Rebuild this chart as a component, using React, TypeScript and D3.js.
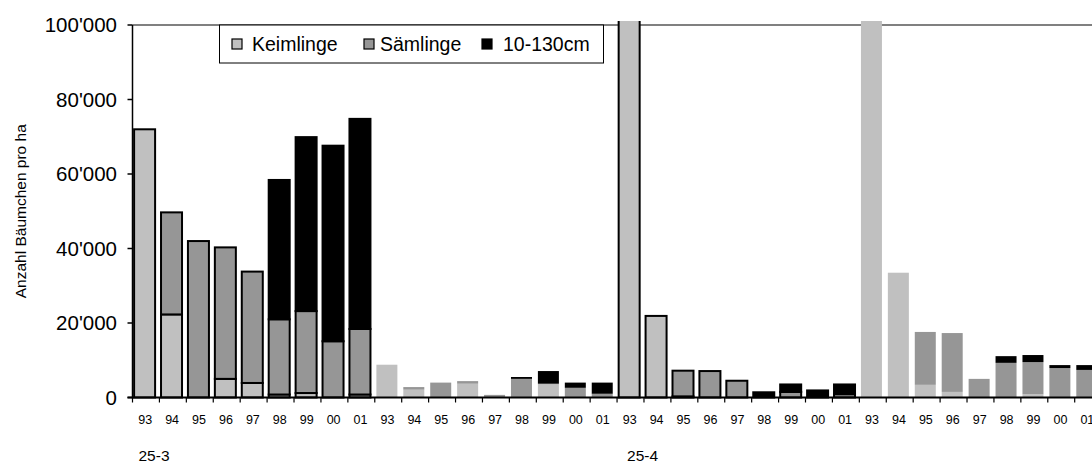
import React from "react";
import * as d3 from "d3";

// Jahrgänge (Aufnahmejahr) je Block
const jahre = ["93", "94", "95", "96", "97", "98", "99", "00", "01"];

// Blöcke: zwei Flächen, jeweils mit umrandeter und nicht umrandeter Serie
const blockLabels = ["25-3", "", "25-4", ""];
const blockOutlined = [true, false, true, false];

// Keimlinge pro ha
const keimlinge = [
  [72000, 22300, 0, 5000, 3900, 800, 1200, 0, 800],
  [8800, 2100, 0, 3700, 0, 0, 3500, 0, 0],
  [103000, 21900, 300, 0, 0, 0, 0, 0, 0],
  [103000, 33500, 3400, 1500, 0, 0, 900, 0, 0],
];

// Sämlinge pro ha
const saemlinge = [
  [0, 27400, 42000, 35300, 29900, 20200, 22000, 15100, 17600],
  [0, 700, 4000, 700, 700, 5000, 200, 2600, 1000],
  [0, 0, 6900, 7100, 4500, 0, 1500, 0, 900],
  [0, 0, 14200, 15800, 5000, 9300, 8600, 7900, 7400],
];

// Bäumchen 10-130 cm pro ha
const gross = [
  [0, 0, 0, 0, 0, 37400, 46700, 52500, 56400],
  [0, 0, 0, 0, 0, 500, 3400, 1400, 3000],
  [0, 0, 0, 0, 0, 1400, 2000, 1900, 2600],
  [0, 0, 0, 0, 0, 1800, 1900, 800, 1300],
];

const seriesNames = ["Keimlinge", "Sämlinge", "10-130cm"];
const seriesColors = ["#c0c0c0", "#969696", "#000000"];
const yTicks = [0, 20000, 40000, 60000, 80000, 100000];

const W = 1092;
const H = 469;
const left = 132.5;
const slot = 26.92;
const top = 25;
const bottom = 397.5;
const font = "'Liberation Sans', Arial, sans-serif";

const fmt = d3.formatLocale({ decimal: ".", thousands: "'", grouping: [3], currency: ["", ""] }).format(",d");

export default function App() {
  const nSlots = blockLabels.length * jahre.length;
  const slots = d3.range(nSlots);
  const x = d3
    .scaleBand<number>()
    .domain(slots)
    .range([left, left + nSlots * slot])
    .padding(0);
  const y = d3.scaleLinear().domain([0, 100000]).range([bottom, top]);

  const barOff = 1.6;
  const barW = 21;

  const bars: React.ReactNode[] = [];
  blockLabels.forEach((_, b) => {
    const outlined = blockOutlined[b];
    jahre.forEach((_, j) => {
      const idx = b * jahre.length + j;
      const x0 = (x(idx) as number) + barOff;
      const vals = [keimlinge[b][j], saemlinge[b][j], gross[b][j]];
      const stack = d3.cumsum(vals);
      vals.forEach((v, s) => {
        if (v <= 0) return;
        const y1 = y(stack[s]);
        const y0 = y(stack[s] - v);
        bars.push(
          <rect
            key={`b${b}-${j}-${s}`}
            x={x0}
            y={y1}
            width={barW}
            height={y0 - y1}
            fill={seriesColors[s]}
            stroke={outlined ? "#000" : "none"}
            strokeWidth={outlined ? 2 : 0}
          />
        );
      });
    });
  });

  const legendItems = [
    { sx: 232, tx: 252 },
    { sx: 364, tx: 380 },
    { sx: 482, tx: 503 },
  ];

  return (
    <svg
      width={W}
      height={H}
      style={{ position: "absolute", left: 0, top: 0, background: "#fff" }}
      fontFamily={font}
    >
      <defs>
        <clipPath id="plotClip">
          <rect x={left - 2} y={21} width={W} height={bottom - 21 + 2} />
        </clipPath>
      </defs>
      <rect x={0} y={0} width={W} height={H} fill="#fff" />
      {/* Rahmen oben */}
      <line x1={left} x2={W} y1={top} y2={top} stroke="#808080" strokeWidth={2} />

      <g clipPath="url(#plotClip)">{bars}</g>

      {/* y-Achse */}
      <line x1={left} x2={left} y1={top} y2={bottom + 1} stroke="#000" strokeWidth={1.5} />
      {yTicks.map((t) => (
        <g key={`yt${t}`}>
          <line x1={left - 5} x2={left} y1={y(t)} y2={y(t)} stroke="#000" strokeWidth={1.5} />
          <text x={117} y={y(t)} dy="0.36em" textAnchor="end" fontSize={20.5} fill="#000">
            {fmt(t)}
          </text>
        </g>
      ))}

      {/* x-Achse */}
      <line x1={left - 5} x2={W} y1={bottom} y2={bottom} stroke="#000" strokeWidth={2} />
      {d3.range(nSlots + 1).map((i) => (
        <line
          key={`xt${i}`}
          x1={left + i * slot}
          x2={left + i * slot}
          y1={bottom}
          y2={bottom + 5}
          stroke="#000"
          strokeWidth={1.2}
        />
      ))}
      {slots.map((i) => (
        <text
          key={`xl${i}`}
          x={(x(i) as number) + slot / 2 - 0.8}
          y={423.5}
          textAnchor="middle"
          fontSize={12.5}
          fill="#000"
        >
          {jahre[i % jahre.length]}
        </text>
      ))}
      {blockLabels.map((l, b) =>
        l ? (
          <text
            key={`bl${b}`}
            x={(x(b * jahre.length) as number) + (b === 0 ? 6 : 10)}
            y={461}
            fontSize={15.5}
            fill="#000"
          >
            {l}
          </text>
        ) : null
      )}

      {/* Achsentitel */}
      <text
        transform={`translate(26,${(top + bottom) / 2}) rotate(-90)`}
        textAnchor="middle"
        fontSize={15.5}
        fill="#000"
      >
        Anzahl Bäumchen pro ha
      </text>

      {/* Legende */}
      <rect x={219.5} y={25} width={384} height={38} fill="#fff" stroke="#000" strokeWidth={1} />
      {seriesNames.map((n, i) => (
        <g key={`lg${i}`}>
          <rect
            x={legendItems[i].sx}
            y={39}
            width={10}
            height={10}
            fill={seriesColors[i]}
            stroke="#000"
            strokeWidth={1.2}
          />
          <text x={legendItems[i].tx} y={50.5} fontSize={19.5} fill="#000">
            {n}
          </text>
        </g>
      ))}
    </svg>
  );
}
